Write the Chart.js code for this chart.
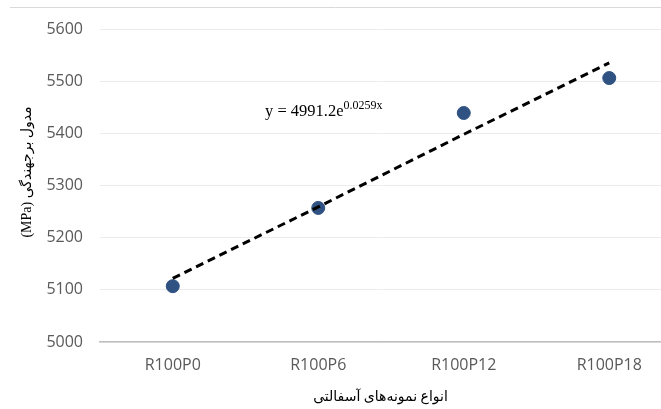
<!DOCTYPE html>
<html>
<head>
<meta charset="utf-8">
<script src="https://cdn.jsdelivr.net/npm/chart.js@4"></script>
<style>
  html, body { margin: 0; padding: 0; background: #fff; }
  #wrap { width: 661px; height: 409px; }
</style>
</head>
<body>
<div id="wrap"><canvas id="myChart" width="661" height="409"></canvas></div>
<script>
const categories = ['R100P0', 'R100P6', 'R100P12', 'R100P18'];
const modulus = [5107, 5257, 5439, 5506];
const trend = [5122, 5259, 5398, 5535];
const yTicks = [5000, 5100, 5200, 5300, 5400, 5500, 5600];

const pos = categories.map((c, i) => i + 1);

// frame line on top, y title and trendline equation
const extras = {
    id: 'extras',
    afterDraw(chart) {
        const ctx = chart.ctx;
        ctx.save();
        ctx.strokeStyle = '#d9d9d9';
        ctx.lineWidth = 1;
        ctx.beginPath();
        ctx.moveTo(10, 7.5);
        ctx.lineTo(661, 7.5);
        ctx.stroke();

        ctx.fillStyle = '#000';
        ctx.textBaseline = 'alphabetic';
        ctx.font = '16.5px "Liberation Serif"';
        const base = 'y = 4991.2e';
        ctx.fillText(base, 265, 116);
        const w = ctx.measureText(base).width;
        ctx.font = '12px "Liberation Serif"';
        ctx.fillText('0.0259x', 265 + w, 109);

        ctx.translate(27, 172);
        ctx.rotate(-Math.PI / 2);
        ctx.textAlign = 'center';
        ctx.textBaseline = 'middle';
        ctx.font = '14px "Liberation Serif", "DejaVu Sans"';
        ctx.fillText('(MPa) مدول برجهندگی', 0, 0);
        ctx.restore();
    }
};

const data = {
    datasets: [{
        label: 'modulus',
        data: pos.map((x, i) => ({x: x, y: modulus[i]})),
        showLine: false,
        backgroundColor: '#2f5282',
        borderColor: '#2f5282',
        pointRadius: 6.5,
        pointHoverRadius: 6.5,
        order: 2
    }, {
        label: 'trend',
        data: pos.map((x, i) => ({x: x, y: trend[i]})),
        showLine: true,
        borderColor: '#000',
        borderWidth: 3,
        borderDash: [8, 5],
        pointRadius: 0,
        fill: false,
        order: 1
    }]
};

const config = {
    type: 'scatter',
    data: data,
    plugins: [extras],
    options: {
        responsive: false,
        animation: false,
        layout: { autoPadding: false, padding: { top: 29, right: 0, bottom: 0, left: 0 } },
        plugins: { legend: { display: false }, tooltip: { enabled: false } },
        scales: {
            x: {
                type: 'linear',
                min: 0.5,
                max: 0.5 + 561 / 145.5,
                afterBuildTicks: (s) => { s.ticks = pos.map(v => ({value: v})); },
                afterFit: (s) => { s.height = 67; s.paddingLeft = 0; s.paddingRight = 0; },
                grid: { display: false, drawTicks: false },
                border: { color: '#bfbfbf', width: 1.5 },
                ticks: {
                    padding: 14,
                    color: '#595959',
                    font: { family: 'Open Sans', size: 16 },
                    maxRotation: 0,
                    autoSkip: false,
                    callback: (v) => categories[v - 1] || ''
                },
                title: {
                    display: true,
                    text: 'انواع نمونه‌های آسفالتی',
                    color: '#000',
                    font: { family: '"Liberation Serif", "DejaVu Sans"', size: 14 },
                    padding: { top: 0, bottom: 3 }
                }
            },
            y: {
                min: 5000,
                max: 5600,
                afterBuildTicks: (s) => { s.ticks = yTicks.map(v => ({value: v})); },
                afterFit: (s) => { s.width = 100; },
                grid: { color: '#ececec', lineWidth: 1, drawTicks: false },
                border: { display: false },
                ticks: {
                    padding: 17,
                    color: '#595959',
                    font: { family: 'Open Sans', size: 16 },
                    callback: (v) => String(v)
                }
            }
        }
    }
};

new Chart(document.getElementById('myChart'), config);
</script>
</body>
</html>
